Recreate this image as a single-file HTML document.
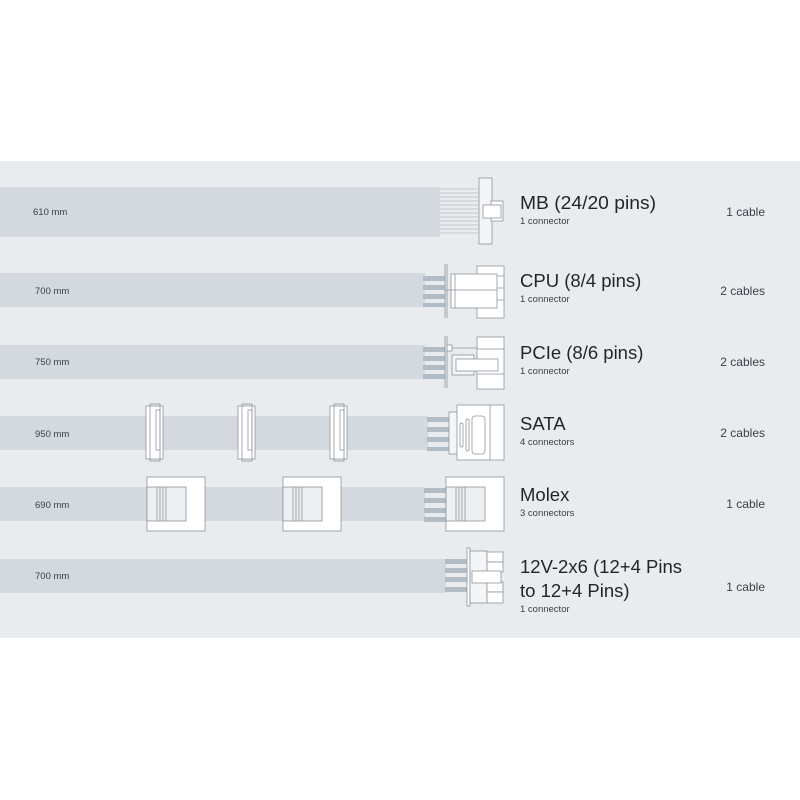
<!DOCTYPE html>
<html><head><meta charset="utf-8"><style>
html,body{margin:0;padding:0;background:#fff;}
svg{display:block;}
text{font-family:"Liberation Sans","DejaVu Sans",sans-serif;}
</style></head><body>
<svg width="800" height="800" viewBox="0 0 800 800" xmlns="http://www.w3.org/2000/svg">
<rect x="0" y="161" width="800" height="477" fill="#e9ecef"/>
<g fill="#d3d9df">
<rect x="0" y="187" width="440" height="50"/>
<rect x="0" y="273" width="425" height="34"/>
<rect x="0" y="345" width="425" height="34"/>
<rect x="0" y="416" width="428" height="34"/>
<rect x="0" y="487" width="425" height="34"/>
<rect x="0" y="559" width="446" height="34"/>
</g>
<g font-size="9.5" fill="#3a4048">
<text x="33" y="215">610 mm</text>
<text x="35" y="294">700 mm</text>
<text x="35" y="365">750 mm</text>
<text x="35" y="437">950 mm</text>
<text x="35" y="508">690 mm</text>
<text x="35" y="579">700 mm</text>
</g>
<g stroke="#8e959c" stroke-width="0.8" fill="#fff">
<!-- MB -->
<g stroke="#b4bcc4"><line x1="440" y1="189" x2="480" y2="189"/><line x1="440" y1="193" x2="480" y2="193"/><line x1="440" y1="197" x2="480" y2="197"/><line x1="440" y1="201" x2="480" y2="201"/><line x1="440" y1="205" x2="480" y2="205"/><line x1="440" y1="209" x2="480" y2="209"/><line x1="440" y1="213" x2="480" y2="213"/><line x1="440" y1="217" x2="480" y2="217"/><line x1="440" y1="221" x2="480" y2="221"/><line x1="440" y1="225" x2="480" y2="225"/><line x1="440" y1="229" x2="480" y2="229"/><line x1="440" y1="233" x2="480" y2="233"/></g>
<rect x="479" y="178" width="13" height="66" fill="#f3f5f6"/>
<rect x="491" y="201" width="12" height="20"/>
<rect x="483" y="205" width="18" height="13"/>
<!-- CPU -->
<g fill="#b2bcc4" stroke="none"><rect x="423" y="276" width="22" height="5"/><rect x="423" y="285" width="22" height="5"/><rect x="423" y="294" width="22" height="5"/><rect x="423" y="303" width="22" height="4"/></g>
<line x1="445" y1="264" x2="445" y2="318"/><line x1="447" y1="264" x2="447" y2="318"/>
<rect x="477" y="266" width="27" height="52"/>
<line x1="477" y1="276" x2="504" y2="276"/><line x1="477" y1="288" x2="504" y2="288"/><line x1="477" y1="300" x2="504" y2="300"/>
<rect x="451" y="274" width="46" height="34"/>
<line x1="455" y1="274" x2="455" y2="308"/>
<line x1="445" y1="290" x2="497" y2="290"/>
<!-- PCIe -->
<g fill="#b2bcc4" stroke="none"><rect x="423" y="347" width="22" height="5"/><rect x="423" y="356" width="22" height="5"/><rect x="423" y="365" width="22" height="5"/><rect x="423" y="374" width="22" height="5"/></g>
<line x1="445" y1="336" x2="445" y2="388"/><line x1="447" y1="336" x2="447" y2="388"/>
<rect x="477" y="337" width="27" height="52"/>
<line x1="477" y1="349" x2="504" y2="349"/><line x1="477" y1="374" x2="504" y2="374"/>
<rect x="447" y="345" width="5" height="6"/>
<line x1="452" y1="348" x2="477" y2="348"/>
<rect x="452" y="355" width="22" height="20" fill="#f3f5f6"/>
<rect x="456" y="359" width="42" height="12"/>
<!-- SATA inline -->
<g>
<rect x="146" y="406" width="17" height="53"/><rect x="150" y="404" width="10" height="57" fill="none"/><rect x="156" y="410" width="4" height="40" fill="none"/>
<rect x="238" y="406" width="17" height="53"/><rect x="242" y="404" width="10" height="57" fill="none"/><rect x="248" y="410" width="4" height="40" fill="none"/>
<rect x="330" y="406" width="17" height="53"/><rect x="334" y="404" width="10" height="57" fill="none"/><rect x="340" y="410" width="4" height="40" fill="none"/>
</g>
<!-- SATA end -->
<g fill="#b2bcc4" stroke="none"><rect x="427" y="417" width="22" height="5"/><rect x="427" y="427" width="22" height="5"/><rect x="427" y="437" width="22" height="5"/><rect x="427" y="447" width="22" height="4"/></g>
<rect x="449" y="412" width="10" height="42" fill="#f3f5f6"/>
<rect x="457" y="405" width="47" height="55"/>
<line x1="490" y1="405" x2="490" y2="460"/>
<rect x="460" y="423" width="3" height="24" rx="1.5"/><rect x="466" y="419" width="3" height="32" rx="1.5"/><rect x="472" y="416" width="13" height="38" rx="3"/>
<!-- Molex inline -->
<rect x="147" y="477" width="58" height="54"/><rect x="147" y="487" width="39" height="34" fill="#edf0f2"/>
<line x1="157" y1="487" x2="157" y2="521"/><line x1="160" y1="487" x2="160" y2="521"/><line x1="163" y1="487" x2="163" y2="521"/><line x1="166" y1="487" x2="166" y2="521"/>
<rect x="283" y="477" width="58" height="54"/><rect x="283" y="487" width="39" height="34" fill="#edf0f2"/>
<line x1="293" y1="487" x2="293" y2="521"/><line x1="296" y1="487" x2="296" y2="521"/><line x1="299" y1="487" x2="299" y2="521"/><line x1="302" y1="487" x2="302" y2="521"/>
<g fill="#b2bcc4" stroke="none"><rect x="424" y="488" width="22" height="5"/><rect x="424" y="498" width="22" height="5"/><rect x="424" y="508" width="22" height="5"/><rect x="424" y="517" width="22" height="5"/></g>
<rect x="446" y="477" width="58" height="54"/><rect x="446" y="487" width="39" height="34" fill="#edf0f2"/>
<line x1="456" y1="487" x2="456" y2="521"/><line x1="459" y1="487" x2="459" y2="521"/><line x1="462" y1="487" x2="462" y2="521"/><line x1="465" y1="487" x2="465" y2="521"/>
<!-- 12V -->
<g fill="#b2bcc4" stroke="none"><rect x="445" y="559" width="22" height="5"/><rect x="445" y="568" width="22" height="5"/><rect x="445" y="577" width="22" height="5"/><rect x="445" y="587" width="22" height="5"/></g>
<rect x="467" y="548" width="3" height="58"/>
<rect x="470" y="551" width="17" height="52" fill="#f3f5f6"/>
<rect x="487" y="552" width="16" height="10"/><rect x="487" y="562" width="16" height="10"/><rect x="487" y="582" width="16" height="10"/><rect x="487" y="592" width="16" height="11"/>
<rect x="472" y="571" width="29" height="12"/>
</g>
<g fill="#1f252b" font-size="18.5">
<text x="520" y="209" textLength="136" lengthAdjust="spacingAndGlyphs">MB (24/20 pins)</text>
<text x="520" y="287">CPU (8/4 pins)</text>
<text x="520" y="359">PCIe (8/6 pins)</text>
<text x="520" y="430">SATA</text>
<text x="520" y="501">Molex</text>
<text x="520" y="573">12V-2x6 (12+4 Pins</text>
<text x="520" y="597">to 12+4 Pins)</text>
</g>
<g font-size="9.5" fill="#3a4048">
<text x="520" y="224">1 connector</text>
<text x="520" y="302">1 connector</text>
<text x="520" y="374">1 connector</text>
<text x="520" y="445">4 connectors</text>
<text x="520" y="516">3 connectors</text>
<text x="520" y="612">1 connector</text>
</g>
<g font-size="12" fill="#3a4048" text-anchor="end">
<text x="765" y="216">1 cable</text>
<text x="765" y="295">2 cables</text>
<text x="765" y="366">2 cables</text>
<text x="765" y="437">2 cables</text>
<text x="765" y="508">1 cable</text>
<text x="765" y="591">1 cable</text>
</g>
</svg>
</body></html>
